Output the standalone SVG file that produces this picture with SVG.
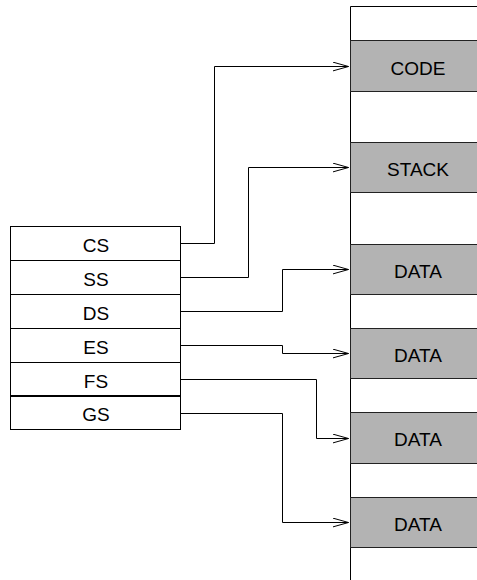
<svg xmlns="http://www.w3.org/2000/svg" width="477" height="580" viewBox="0 0 477 580">
<style>
.reg{fill:#fff;stroke:#000;stroke-width:1}
.seg{fill:#b3b3b3;stroke:#222;stroke-width:1}
.lbl{font-family:"Liberation Sans",Arial,sans-serif;font-size:19px;fill:#000;text-anchor:middle}
.conn{fill:none;stroke:#000;stroke-width:1}
.mem{fill:none;stroke:#000;stroke-width:1}
</style>
<defs>
<marker id="arr" markerWidth="18" markerHeight="12" refX="16" refY="5" orient="auto" markerUnits="userSpaceOnUse">
<path d="M0,0.5 L16,5 L0,9.5" fill="none" stroke="#000" stroke-width="1"/>
</marker>
</defs>
<g id="memory">
<path class="mem" d="M350.5,6.5 H477 M350.5,6.5 V580"/>
</g>
<g id="code"><rect class="seg" x="350.5" y="40.5" width="140" height="51"/><text class="lbl" x="418" y="75">CODE</text></g>
<g id="stack"><rect class="seg" x="350.5" y="142.5" width="140" height="50"/><text class="lbl" x="418" y="176">STACK</text></g>
<g id="data1"><rect class="seg" x="350.5" y="244.5" width="140" height="50"/><text class="lbl" x="418" y="278">DATA</text></g>
<g id="data2"><rect class="seg" x="350.5" y="328.5" width="140" height="50"/><text class="lbl" x="418" y="362">DATA</text></g>
<g id="data3"><rect class="seg" x="350.5" y="412.5" width="140" height="51"/><text class="lbl" x="418" y="446">DATA</text></g>
<g id="data4"><rect class="seg" x="350.5" y="497.5" width="140" height="50"/><text class="lbl" x="418" y="531">DATA</text></g>
<g id="cs"><rect class="reg" x="10.5" y="226.5" width="170" height="34"/><text class="lbl" x="96" y="252">CS</text></g>
<g id="ss"><rect class="reg" x="10.5" y="260.5" width="170" height="34"/><text class="lbl" x="96" y="286">SS</text></g>
<g id="ds"><rect class="reg" x="10.5" y="294.5" width="170" height="34"/><text class="lbl" x="96" y="320">DS</text></g>
<g id="es"><rect class="reg" x="10.5" y="328.5" width="170" height="34"/><text class="lbl" x="96" y="354">ES</text></g>
<g id="fs"><rect class="reg" x="10.5" y="362.5" width="170" height="33.5"/><text class="lbl" x="96" y="388">FS</text></g>
<g id="gs"><rect class="reg" x="10.5" y="396" width="170" height="33.5"/><line x1="10" y1="396" x2="181" y2="396" stroke="#000" stroke-width="2"/><text class="lbl" x="96" y="421">GS</text></g>
<g id="connectors">
<path class="conn" marker-end="url(#arr)" d="M180.5,243.5 H214.5 V66.5 H348.5"/>
<path class="conn" marker-end="url(#arr)" d="M180.5,277.5 H248.5 V167.5 H348.5"/>
<path class="conn" marker-end="url(#arr)" d="M180.5,311.5 H282.5 V269.5 H348.5"/>
<path class="conn" marker-end="url(#arr)" d="M180.5,345.5 H282.5 V353.5 H348.5"/>
<path class="conn" marker-end="url(#arr)" d="M180.5,379.5 H316.5 V438.5 H348.5"/>
<path class="conn" marker-end="url(#arr)" d="M180.5,413.5 H282.5 V522.5 H348.5"/>
</g>
</svg>
